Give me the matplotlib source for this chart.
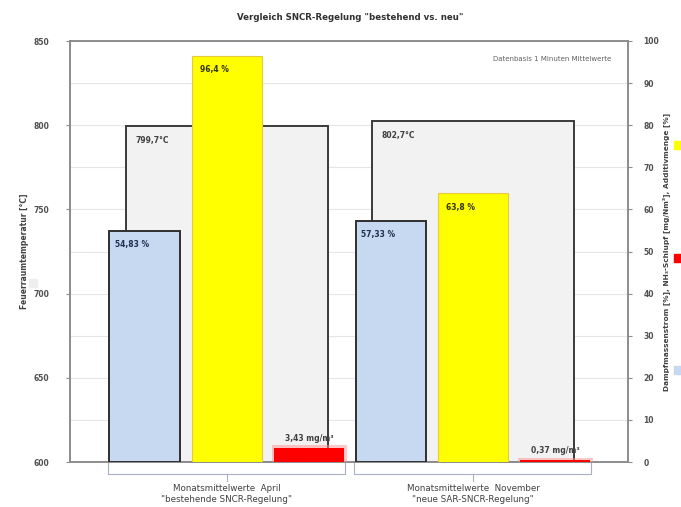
import matplotlib

matplotlib.use("Agg")
import matplotlib.pyplot as plt
import matplotlib.transforms as mtransforms
from matplotlib.patches import Rectangle

# ── Data ──
groups = ['Monatsmittelwerte  April\n"bestehende SNCR-Regelung"',
          'Monatsmittelwerte  November\n"neue SAR-SNCR-Regelung"']
temperature = [799.7, 802.7]          # Feuerraumtemperatur [°C], left axis
steam = [54.83, 57.33]                # Dampfmassenstrom [%], right axis
additive = [96.4, 63.8]               # Additivmenge [%], right axis
slip = [3.43, 0.37]                   # NH3-Schlupf [mg/Nm³], right axis

temp_labels = ["799,7°C", "802,7°C"]
steam_labels = ["54,83 %", "57,33 %"]
additive_labels = ["96,4 %", "63,8 %"]
slip_labels = ["3,43 mg/m³", "0,37 mg/m³"]

left_ticks = [600, 650, 700, 750, 800, 850]
right_ticks = [0, 10, 20, 30, 40, 50, 60, 70, 80, 90, 100]

GREY_FILL = "#f2f2f2"
BLUE = "#c6d9f1"
YELLOW = "#ffff00"
RED = "#ff0000"
TXT = "#404040"

fig = plt.figure(figsize=(6.81, 5.07), dpi=100)
ax = fig.add_axes([70 / 681, 1 - 462 / 507, 558 / 681, 421 / 507])
ax2 = ax.twinx()

x = [0, 1]

# grid every 25 °C (= every 10 % on the right axis)
for g in range(600, 851, 25):
    ax.axhline(g, color="#e6e6e6", linewidth=0.8, zorder=0)

# ── temperature bars (background) ──
ax.bar(x, [t - 600 for t in temperature], bottom=600, width=0.82,
       color=GREY_FILL, edgecolor="#3a3a3a", linewidth=1.4, zorder=2)
for i, t in enumerate(temperature):
    ax.text(x[i] - 0.37, t - 6, temp_labels[i], fontsize=5.5,
            fontweight="bold", color=TXT, va="top", ha="left", zorder=3)

ax.set_xlim(-0.638, 1.63)
ax.set_ylim(600, 850)
ax.set_yticks(left_ticks)
ax.set_xticks([])

# ── secondary axis bars ──
off = 0.335
w = 0.285
ax2.bar([xi - off for xi in x], steam, width=w, color=BLUE,
        edgecolor="#2f2f2f", linewidth=1.4, zorder=3)
ax2.bar(x, additive, width=w, color=YELLOW, edgecolor="#e8c840",
        linewidth=0.8, zorder=3)
# soft red glow + red bar
ax2.bar([xi + off for xi in x], [s + 0.6 for s in slip], width=w + 0.02,
        color="#ff9090", alpha=0.5, linewidth=0, zorder=3)
ax2.bar([xi + off for xi in x], slip, width=w, color=RED, linewidth=0, zorder=3)

for i in range(2):
    ax2.text(x[i] - off - 0.12, steam[i] - 2.2, steam_labels[i], fontsize=5.5,
             fontweight="bold", color="#1f2f4f", va="top", ha="left", zorder=4)
    ax2.text(x[i] - 0.11, additive[i] - 2.2, additive_labels[i], fontsize=5.5,
             fontweight="bold", color="#333300", va="top", ha="left", zorder=4)
    ax2.text(x[i] + off, slip[i] + 1.2, slip_labels[i], fontsize=5.5,
             fontweight="bold", color=TXT, va="bottom", ha="center", zorder=4)

ax2.set_ylim(0, 100)
ax2.set_yticks(right_ticks)

for a in (ax, ax2):
    for s in a.spines.values():
        s.set_color("#8c8c8c")
        s.set_linewidth(1.2)
    a.tick_params(axis="y", labelsize=5.5, colors="#8c8c8c",
                  labelcolor="#505050", length=3, width=0.8)
for lbl in ax.get_yticklabels() + ax2.get_yticklabels():
    lbl.set_fontweight("bold")
ax.tick_params(axis="y", pad=12)
ax2.tick_params(axis="y", pad=8)

ax.set_ylabel("Feuerraumtemperatur [°C]", fontsize=5.5, fontweight="bold",
              color=TXT, labelpad=3)
ax2.set_ylabel("Dampfmassenstrom [%], NH\u2083-Schlupf [mg/Nm³], Additivmenge [%]",
               fontsize=5.3, fontweight="bold", color=TXT, labelpad=2)

ax.text(0.97, 0.965, "Datenbasis 1 Minuten Mittelwerte", transform=ax.transAxes,
        fontsize=5, color="#606060", ha="right", va="top")

fig.text(350 / 681, 1 - 18 / 507, 'Vergleich SNCR-Regelung "bestehend vs. neu"',
         fontsize=6.2, fontweight="bold", color="#303030", ha="center", va="center")

# ── group brackets below the axis ──
trans = mtransforms.blended_transform_factory(ax.transData, ax.transAxes)
for i, name in enumerate(groups):
    x0, x1 = x[i] - 0.485, x[i] + 0.48
    ax.plot([x0, x0, x1, x1], [0, -0.028, -0.028, 0], transform=trans,
            color="#aab0c4", linewidth=0.8, clip_on=False)
    ax.plot([x[i], x[i]], [-0.028, -0.045], transform=trans,
            color="#aab0c4", linewidth=0.8, clip_on=False)
    ax.text(x[i], -0.052, name, transform=trans, fontsize=6.3, color=TXT,
            ha="center", va="top", linespacing=1.35, clip_on=False)

# ── legend markers at the figure edges ──
for yy, col in [(145, YELLOW), (258, RED), (370, BLUE)]:
    fig.patches.append(Rectangle((674 / 681, 1 - (yy + 4) / 507), 7 / 681, 8 / 507,
                                 transform=fig.transFigure, color=col))
fig.patches.append(Rectangle((29 / 681, 1 - 287 / 507), 8 / 681, 8 / 507,
                             transform=fig.transFigure, color="#eeeeee"))

fig.savefig("out.png", dpi=100)
